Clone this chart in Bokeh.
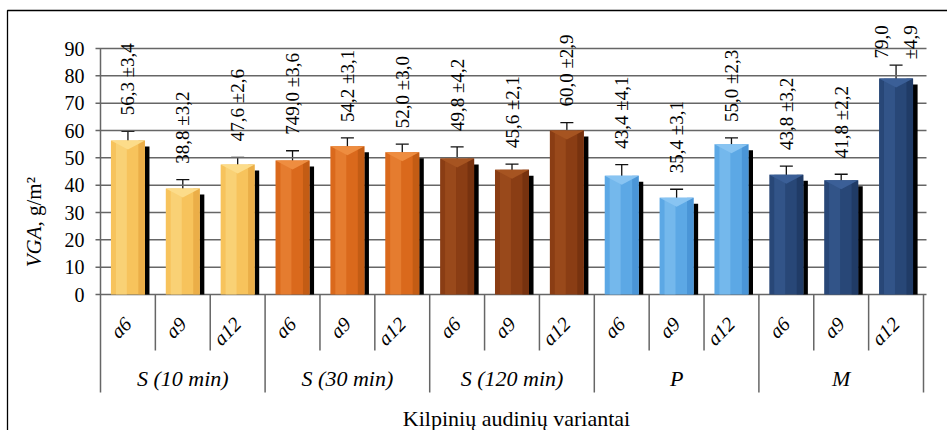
from math import pi
from bokeh.plotting import figure
from bokeh.models import Range1d, ColumnDataSource, Whisker, TeeHead, Label
from bokeh.transform import dodge
from bokeh.core.properties import value, field
from bokeh.embed import file_html
from bokeh.resources import INLINE

# ---------------- data ----------------
groups = ["S (10 min)", "S (30 min)", "S (120 min)", "P", "M"]
variants = ["a6", "a9", "a12"]
vga_mean = [56.3, 38.8, 47.6, 49.0, 54.2, 52.0, 49.8, 45.6, 60.0,
            43.4, 35.4, 55.0, 43.8, 41.8, 79.0]
vga_err = [3.4, 3.2, 2.6, 3.6, 3.1, 3.0, 4.2, 2.1, 2.9,
           4.1, 3.1, 2.3, 3.2, 2.2, 4.9]
bar_labels = ["56,3 ±3,4", "38,8 ±3,2", "47,6 ±2,6", "749,0 ±3,6", "54,2 ±3,1",
              "52,0 ±3,0", "49,8 ±4,2", "45,6 ±2,1", "60,0 ±2,9", "43,4 ±4,1",
              "35,4 ±3,1", "55,0 ±2,3", "43,8 ±3,2", "41,8 ±2,2", "79,0\n±4,9"]
y_ticks = [0, 10, 20, 30, 40, 50, 60, 70, 80, 90]
x_title = "Kilpinių audinių variantai"
y_title_a = "VGA"
y_title_b = ", g/m²"

# colours per group: base, light, dark
base_colors = ["#F7C35C", "#DA691C", "#8A3D14", "#5CA8E5", "#284777"]
light_colors = ["#FCDC8A", "#EE8D40", "#A65421", "#88C4F2", "#3B5F97"]
dark_colors = ["#E2A03A", "#B4530F", "#6A2C0B", "#3E89CD", "#1A335C"]

# ---------------- layout constants ----------------
W, H = 947, 430
PXY = 246.0 / 90.0          # pixels per y unit
PXX = 823.0 / 15.0          # pixels per category slot
ZERO_PX = 294               # pixel row of value 0
LEFT_PX = 100               # pixel column of the category axis start
SERIF = "Liberation Serif"
GRID = "#666666"


def ypx(px):
    return (ZERO_PX - px) / PXY


def xpx(px):
    return (px - LEFT_PX) / PXX


ng, nv = len(groups), len(variants)
n = ng * nv
xs = [i + 0.5 for i in range(n)]
gi = [i // nv for i in range(n)]

BAR_W = 0.62
src = ColumnDataSource(dict(
    x=xs,
    top=vga_mean,
    upper=[m + e for m, e in zip(vga_mean, vga_err)],
    lower=[m - e for m, e in zip(vga_mean, vga_err)],
    label=bar_labels,
    base=[base_colors[g] for g in gi],
    light=[light_colors[g] for g in gi],
    dark=[dark_colors[g] for g in gi],
    shadow_top=[m - 6 / PXY for m in vga_mean],
    align=["right" if "\n" in t else "left" for t in bar_labels],
    yoff=[-40 if "\n" in t else -16 for t in bar_labels],
))

p = figure(width=W, height=H, output_backend="svg", toolbar_location=None,
           x_range=Range1d(xpx(0), xpx(W)), y_range=Range1d(ypx(H), ypx(0)),
           min_border=0, x_axis_location=None, y_axis_location=None,
           outline_line_color=None,
           background_fill_color="white", border_fill_color="white")
p.grid.visible = False

# outer frame of the chart (left and top edges visible)
p.line(x=[xpx(7), xpx(7), xpx(W + 20)], y=[ypx(H + 20), ypx(10), ypx(10)],
       line_color="black", line_width=1.3)

# horizontal grid lines with tick marks (value axis)
p.segment(x0=[xpx(95)] * len(y_ticks), x1=[xpx(926)] * len(y_ticks),
          y0=y_ticks, y1=y_ticks, line_color=GRID, line_width=1.5)
p.text(x=[xpx(84)] * len(y_ticks), y=y_ticks, text=[str(t) for t in y_ticks],
       text_align="right", text_baseline="middle",
       text_font=value(SERIF), text_font_size="20px", text_color="black")

# vertical separators below the axis (category axis)
sx, sy0, sy1 = [], [], []
for b in range(n + 1):
    sx.append(b)
    if b % nv == 0:
        sy0.append(y_ticks[-1] if b == 0 else 0)
        sy1.append(ypx(392))
    else:
        sy0.append(0)
        sy1.append(ypx(350))
p.segment(x0=sx, y0=sy0, x1=sx, y1=sy1, line_color=GRID, line_width=1.5)

# bar shadow
p.vbar(x=dodge("x", BAR_W / 2 + 0.04, range=p.x_range), top="shadow_top", bottom=0,
       width=0.085, fill_color="black", line_color=None, source=src)
# bars with a simple bevel look
p.vbar(x="x", top="top", bottom=0, width=BAR_W, fill_color="base", line_color=None, source=src)
p.vbar(x=dodge("x", -0.12, range=p.x_range), top="top", bottom=0, width=0.2,
       fill_color="light", fill_alpha=0.55, line_color=None, source=src)
p.vbar(x=dodge("x", 0.25, range=p.x_range), top="top", bottom=0, width=0.12,
       fill_color="dark", fill_alpha=0.6, line_color=None, source=src)
tri_xs = [[x - BAR_W / 2, x + BAR_W / 2, x] for x in xs]
tri_ys = [[m, m, m - 9 / PXY] for m in vga_mean]
p.patches(xs=tri_xs, ys=tri_ys, fill_color=[light_colors[g] for g in gi],
          line_color=None)

# error bars
p.add_layout(Whisker(base="x", upper="upper", lower="lower", source=src,
                     line_color="#111111", line_width=1.3,
                     upper_head=TeeHead(size=13, line_color="#111111", line_width=1.3),
                     lower_head=TeeHead(size=13, line_color="#111111", line_width=1.3)))

# value labels (rotated)
p.text(x="x", y="upper", text="label", angle=pi / 2, source=src,
       text_align=field("align"), y_offset=field("yoff"), text_baseline="middle",
       text_font=value(SERIF), text_font_size="19px",
       text_color="black", text_line_height=1.35)

# sub-category labels
p.text(x=xs, y=[ypx(320)] * n, text=[variants[i % nv] for i in range(n)],
       angle=pi / 4, text_align="right", text_baseline="middle",
       text_font=value(SERIF), text_font_style="italic",
       text_font_size="20px", text_color="black")

# group labels
p.text(x=[g * nv + nv / 2 for g in range(ng)], y=[ypx(378)] * ng, text=groups,
       text_align="center", text_baseline="middle",
       text_font=value(SERIF), text_font_style="italic",
       text_font_size="22px", text_color="black")

# axis titles
p.add_layout(Label(x=xpx(516), y=ypx(418), text=x_title, text_align="center",
                   text_baseline="middle", text_font=SERIF,
                   text_font_size="22px", text_color="black"))
p.add_layout(Label(x=xpx(33), y=ypx(226), text=y_title_a, angle=pi / 2,
                   text_align="right", text_baseline="middle",
                   text_font=SERIF, text_font_style="italic",
                   text_font_size="21px", text_color="black"))
p.add_layout(Label(x=xpx(33), y=ypx(226), text=y_title_b, angle=pi / 2,
                   text_align="left", text_baseline="middle",
                   text_font=SERIF,
                   text_font_size="21px", text_color="black"))

open("out.html", "w").write(file_html(p, INLINE))
